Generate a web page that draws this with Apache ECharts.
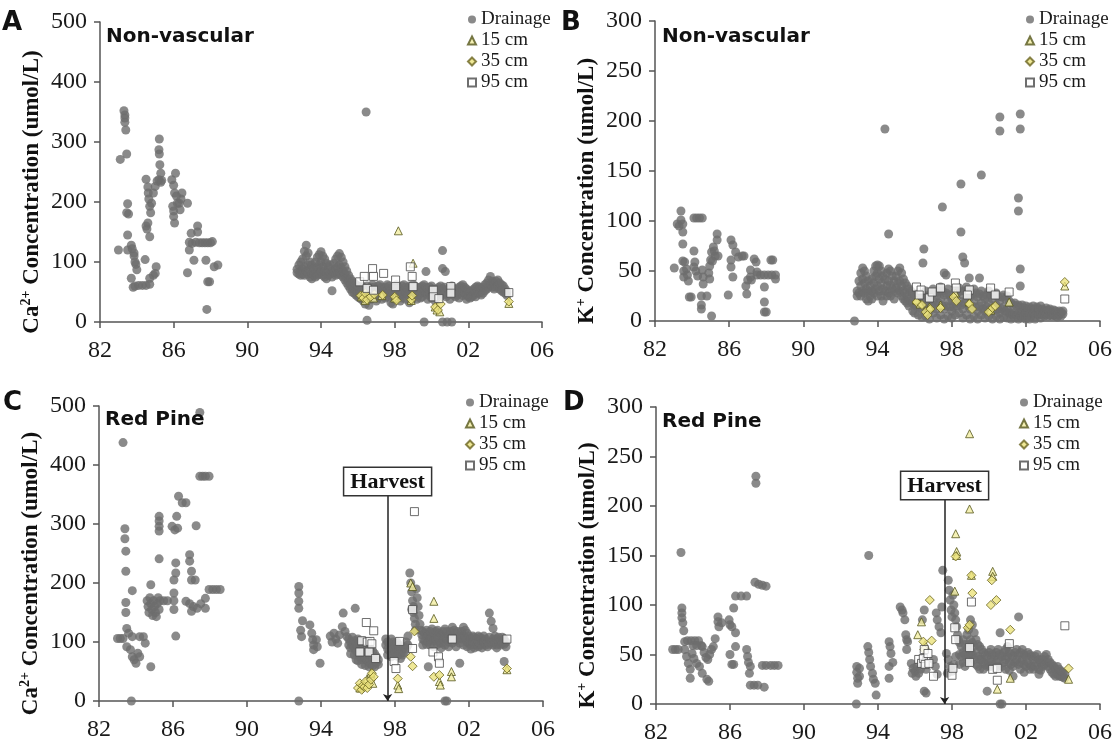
<!DOCTYPE html>
<html><head><meta charset="utf-8">
<script src="https://cdn.jsdelivr.net/npm/echarts@6/dist/echarts.min.js"></script>
<style>html,body{margin:0;padding:0;background:#fff}#c{width:1115px;height:755px}</style>
</head><body><div id="c"></div>
<script>
// ---------- DATA (x = decimal year, y = umol/L) ----------
const xTicks = [1982, 1986, 1990, 1994, 1998, 2002, 2006];
const seriesNames = ['Drainage', '15 cm', '35 cm', '95 cm'];
const harvestYear = 1997.6;
const harvestTopC = 349;   // value where the Harvest box sits (panel C)
const harvestTopD = 207;   // (panel D)

// Panel A: Non-vascular, Ca2+
const nvCaDrainEarly = [[1983.0,120],[1983.1,271],[1983.3,352],[1983.35,345],[1983.35,340],[1983.35,333],[1983.4,320],[1983.45,280],[1983.45,182],[1983.55,180],[1983.5,197],[1983.5,145],[1983.5,120],[1983.7,128],[1983.75,122],[1983.85,115],[1983.85,110],[1983.9,100],[1983.95,96],[1984.0,87],[1983.7,73],[1983.8,58],[1983.9,60],[1984.1,61],[1984.3,61],[1984.5,61],[1984.7,63],[1984.45,104],[1984.7,73],[1984.9,78],[1985.0,81],[1985.05,92],[1984.5,160],[1984.55,155],[1984.6,165],[1984.7,142],[1984.5,238],[1984.6,225],[1984.62,215],[1984.65,205],[1984.7,193],[1984.75,182],[1984.8,198],[1984.9,215],[1985.0,226],[1985.1,235],[1985.2,237],[1985.3,233],[1985.22,305],[1985.2,287],[1985.22,280],[1985.25,262],[1985.3,248],[1985.35,236],[1985.9,237],[1986.0,228],[1986.05,215],[1985.95,193],[1986.0,185],[1986.0,176],[1986.05,165],[1986.1,248],[1986.15,210],[1986.2,198],[1986.3,198],[1986.35,187],[1986.4,205],[1986.45,215],[1986.75,198],[1986.75,82],[1986.85,133],[1986.85,120],[1986.95,148],[1987.0,131],[1987.1,103],[1987.2,133],[1987.3,160],[1987.3,150],[1987.4,132],[1987.55,132],[1987.7,132],[1987.85,132],[1988.0,132],[1988.1,134],[1987.75,103],[1987.85,67],[1987.95,67],[1988.2,92],[1988.4,95],[1987.8,21]];
const nvCaDrainOutliers = [[1996.45,350],[1996.5,3],[1994.6,52],[2000.6,119],[2000.6,89],[2000.75,84],[1999.7,84],[1999.6,0],[2000.6,0],[2000.85,0],[2001.1,0]];
const nvCaDrainBand = [[1992.7,88,82],[1992.8,95,80],[1992.9,100,85,78],[1993.0,105,88,80],[1993.1,118,92,78],[1993.2,128,110,85],[1993.3,115,95,80],[1993.4,100,88,75],[1993.5,95,80,72],[1993.6,90,78],[1993.7,100,82,75],[1993.8,108,90,78],[1993.9,112,95,80],[1994.0,117,100,85],[1994.1,110,92,78],[1994.2,105,85,75],[1994.3,98,82,72],[1994.4,92,78],[1994.5,95,80],[1994.6,85,75],[1994.7,98,82],[1994.8,105,88,78],[1994.9,110,92,80],[1995.0,114,95,82],[1995.1,108,90,78],[1995.2,100,85,75],[1995.3,92,80,70],[1995.4,85,72,65],[1995.5,78,68,60],[1995.6,72,62,55],[1995.7,68,58,50],[1995.8,65,55,48],[1995.9,62,52,45],[1996.0,60,50,42],[1996.1,58,48,40],[1996.2,60,50,38],[1996.3,58,45,35],[1996.4,55,45,30],[1996.5,60,48,40],[1996.6,55,42,28],[1996.7,58,48,38],[1996.8,62,50,40],[1996.9,58,48],[1997.0,55,45,35],[1997.1,60,50,40],[1997.2,62,52],[1997.3,58,48,38],[1997.4,55,45],[1997.5,58,48,40],[1997.6,62,52,42],[1997.7,60,50],[1997.8,55,45,32],[1997.9,58,48,30],[1998.0,60,50,38],[1998.1,62,52,42],[1998.2,58,48],[1998.3,55,45,35],[1998.4,60,50,40],[1998.5,62,52],[1998.6,58,48,38],[1998.7,55,45],[1998.8,60,50,32],[1998.9,58,48,35],[1999.0,62,52,40],[1999.1,60,50],[1999.2,58,48,38],[1999.3,55,45],[1999.4,58,48,40],[1999.5,60,50,42],[1999.6,62,52],[1999.7,58,48],[1999.8,55,45,38],[1999.9,58,48],[2000.0,60,50,40],[2000.1,55,45],[2000.2,52,42,35],[2000.3,55,45],[2000.4,58,48,38],[2000.5,60,50],[2000.6,55,45],[2000.7,58,48],[2000.8,52,42],[2000.9,55,45],[2001.0,58,48,38],[2001.1,60,50],[2001.2,55,45],[2001.3,52,42],[2001.4,55,45],[2001.5,58,48,40],[2001.6,60,50],[2001.7,62,52,44],[2001.8,58,48],[2001.9,55,45,38],[2002.0,52,42],[2002.1,50,40],[2002.2,52,42],[2002.3,55,45],[2002.4,58,48,42],[2002.5,60,50],[2002.6,58,48],[2002.7,55,45],[2002.8,58,48],[2002.9,62,52],[2003.0,65,55],[2003.1,70,58],[2003.2,76,62],[2003.3,68,58],[2003.4,65,55],[2003.5,68,58],[2003.6,70,60],[2003.7,65,55],[2003.8,62,52],[2003.9,60,50],[2004.0,55,48],[2004.1,50,44]];
const nvCa15 = [[1996.2,42],[1996.4,36],[1996.6,45],[1996.85,40],[1997.3,44],[1998.2,152],[1998.0,40],[1998.9,36],[1999.0,98],[2000.2,25],[2000.3,20],[2000.45,17],[2004.2,31]];
const nvCa35 = [[1996.15,44],[1996.3,40],[1996.4,48],[1996.5,37],[1996.7,42],[1996.9,46],[1997.35,45],[1998.0,42],[1998.1,36],[1998.9,37],[1998.95,44],[2000.2,25],[2000.35,20],[2000.5,30],[2004.2,34]];
const nvCa95 = [[1996.1,67],[1996.35,76],[1996.8,89],[1996.85,76],[1997.4,81],[1996.5,56],[1996.85,53],[1998.05,70],[1998.05,59],[1998.85,92],[1998.95,76],[1999.0,59],[2000.1,53],[2000.1,42],[2000.4,39],[2001.05,59],[2001.05,48],[2004.2,49]];

// Panel B: Non-vascular, K+
const nvKDrainEarly = [[1983.04,53],[1983.2,97],[1983.3,95],[1983.4,110],[1983.4,101],[1983.5,97],[1983.5,89],[1983.5,77],[1983.5,60],[1983.6,59],[1983.55,50],[1983.55,44],[1983.7,52],[1983.75,46],[1983.8,40],[1983.85,24],[1983.95,24],[1984.1,70],[1984.1,103],[1984.25,103],[1984.4,103],[1984.55,103],[1984.1,54],[1984.15,59],[1984.2,50],[1984.3,45],[1984.55,51],[1984.6,44],[1984.6,37],[1984.5,25],[1984.5,16],[1984.5,12],[1984.8,25],[1985.05,5],[1984.9,48],[1984.95,55],[1985.0,61],[1985.05,69],[1985.15,74],[1985.2,70],[1985.25,65],[1985.35,87],[1985.35,81],[1985.4,65],[1984.95,42],[1985.1,60],[1985.95,26],[1986.1,81],[1986.2,76],[1986.1,61],[1986.1,54],[1986.2,44],[1986.35,69],[1986.5,64],[1986.7,65],[1986.8,65],[1986.9,35],[1986.95,27],[1987.0,41],[1987.2,41],[1987.35,62],[1987.45,59],[1987.15,51],[1987.15,44],[1987.5,49],[1987.5,46],[1987.7,46],[1987.9,46],[1988.1,46],[1988.3,46],[1988.5,46],[1988.25,61],[1988.35,61],[1988.5,42],[1987.9,34],[1987.9,19],[1987.9,9],[1988.0,9]];
const nvKDrainOutliers = [[1992.76,0],[1994.4,192],[1994.6,87],[1996.5,72],[1996.45,58],[1997.5,114],[1998.5,137],[1998.5,89],[1998.6,64],[1998.7,58],[1999.6,146],[2000.6,204],[2000.6,190],[2001.7,207],[2001.7,192],[2001.6,123],[2001.6,110],[2001.7,52],[2001.7,35],[1997.7,46],[1999.5,43],[1998.95,43],[1997.6,48]];
const nvKDrainBand = [[1992.9,30,25],[1993.0,40,28],[1993.1,48,35,25],[1993.2,53,42,30],[1993.3,50,38,28],[1993.4,45,32,22],[1993.5,40,30,20],[1993.6,35,25],[1993.7,42,30,22],[1993.8,50,38,28],[1993.9,55,45,32],[1994.0,56,48,35,25],[1994.1,55,42,30],[1994.2,50,38,25],[1994.3,45,32,20],[1994.4,42,30],[1994.5,48,35,25],[1994.6,52,40,28],[1994.7,50,36,25],[1994.8,45,32],[1994.9,40,30,22],[1995.0,45,33],[1995.1,50,38,28],[1995.2,53,40,30],[1995.3,48,35,25],[1995.4,42,30,22],[1995.5,38,28,20],[1995.6,35,25,18],[1995.7,32,22,15],[1995.8,30,20],[1995.9,28,18,10],[1996.0,26,16,8],[1996.1,25,15],[1996.2,28,18,6],[1996.3,24,14],[1996.4,22,12,4],[1996.5,26,16],[1996.6,30,18,5],[1996.7,25,12],[1996.8,22,10,2],[1996.9,28,15],[1997.0,32,20,8],[1997.1,28,16],[1997.2,25,12,3],[1997.3,30,18],[1997.4,34,22,6],[1997.5,30,15],[1997.6,26,12,2],[1997.7,28,15],[1997.8,32,20,5],[1997.9,26,14],[1998.0,22,10,3],[1998.1,25,14],[1998.2,30,18,6],[1998.3,28,15],[1998.4,33,20,8],[1998.5,30,16],[1998.6,26,12,3],[1998.7,30,18],[1998.8,34,22,6],[1998.9,28,15],[1999.0,24,12,2],[1999.1,27,15],[1999.2,32,20,5],[1999.3,28,14],[1999.4,24,10,2],[1999.5,27,15],[1999.6,30,18,6],[1999.7,25,12],[1999.8,22,10,3],[1999.9,26,14],[2000.0,30,18,5],[2000.1,26,12],[2000.2,22,10,2],[2000.3,26,14],[2000.4,28,16,5],[2000.5,24,12],[2000.6,20,8,2],[2000.7,24,12],[2000.8,26,14,4],[2000.9,22,10],[2001.0,25,12,3],[2001.1,20,8],[2001.2,18,8,2],[2001.3,16,6],[2001.4,18,8,3],[2001.5,15,6],[2001.6,16,8,2],[2001.7,14,5],[2001.8,16,8,3],[2001.9,13,5],[2002.0,15,8,2],[2002.1,12,5],[2002.2,14,7,2],[2002.3,12,5],[2002.4,15,8],[2002.5,12,5,2],[2002.6,14,8],[2002.7,12,6],[2002.8,15,8,3],[2002.9,12,6],[2003.0,10,5],[2003.1,13,7],[2003.2,11,5],[2003.3,12,6],[2003.4,9,5],[2003.5,11,6],[2003.6,10,5],[2003.7,8,4],[2003.8,10,6],[2003.9,9,5],[2004.0,10,7]];
const nvK15 = [[1996.1,21],[1996.3,17],[1996.8,14],[1997.4,16],[1998.2,28],[1998.95,19],[2000.1,11],[2001.1,19],[2004.1,35]];
const nvK35 = [[1996.1,19],[1996.4,16],[1996.6,9],[1996.7,6],[1996.85,12],[1997.4,13],[1998.1,24],[1998.25,20],[1998.95,17],[1999.1,12],[2000.0,9],[2000.2,13],[2000.35,15],[2004.1,39]];
const nvK95 = [[1996.1,34],[1996.35,31],[1996.25,26],[1996.8,23],[1996.95,29],[1997.4,33],[1998.2,38],[1998.25,33],[1998.95,31],[1998.85,26],[2000.1,33],[2000.35,26],[2001.1,29],[2004.1,22]];

// Panel C: Red Pine, Ca2+
const rpCaDrainEarly = [[1983.0,106],[1983.15,106],[1983.3,106],[1983.3,438],[1983.4,292],[1983.4,275],[1983.45,254],[1983.45,220],[1983.45,167],[1983.45,150],[1983.5,123],[1983.6,115],[1983.5,92],[1983.7,87],[1983.8,75],[1983.9,70],[1984.0,64],[1984.1,81],[1984.2,75],[1983.75,0],[1983.8,187],[1983.8,109],[1984.2,109],[1984.4,109],[1984.5,98],[1984.8,58],[1984.6,170],[1984.65,160],[1984.7,150],[1984.75,175],[1984.8,165],[1984.85,155],[1984.9,145],[1984.95,170],[1985.0,160],[1985.05,150],[1985.1,143],[1985.15,165],[1985.2,175],[1985.25,155],[1985.3,170],[1984.8,197],[1985.25,313],[1985.25,305],[1985.25,296],[1985.25,288],[1985.25,241],[1985.5,170],[1985.7,170],[1986.05,205],[1986.05,183],[1986.05,170],[1986.05,155],[1986.15,110],[1986.15,234],[1986.15,217],[1985.95,296],[1986.1,290],[1986.25,293],[1986.2,313],[1986.3,347],[1986.5,336],[1986.7,336],[1986.7,169],[1986.9,165],[1987.1,160],[1987.3,157],[1987.5,165],[1986.9,248],[1986.9,237],[1987.0,220],[1987.0,205],[1987.2,205],[1987.0,152],[1987.25,297],[1987.45,489],[1987.45,381],[1987.6,381],[1987.75,381],[1987.95,381],[1987.75,174],[1987.75,157],[1987.95,189],[1988.15,189],[1988.35,189],[1988.55,189]];
const rpCaDrainOutliers = [[1992.8,194],[1992.8,183],[1992.8,169],[1992.8,157],[1993.0,136],[1992.9,120],[1992.95,109],[1992.8,0],[1993.4,129],[1993.5,115],[1993.55,104],[1993.6,95],[1993.6,87],[1993.75,104],[1993.8,92],[1993.95,64],[1994.5,110],[1994.6,100],[1994.7,115],[1994.8,105],[1994.9,98],[1995.0,112],[1995.2,149],[1995.85,157],[1995.15,126],[1995.3,118],[1995.4,109],[1998.8,217],[1998.85,200],[1998.9,185],[1998.95,170],[1999.0,160],[1999.0,150],[1999.05,140],[1999.1,130],[1999.1,120],[1998.9,155],[1999.15,190],[1999.2,175],[1999.25,160],[1999.3,145],[1999.35,130],[1999.4,120],[1999.45,112]];
const rpCaDrainBand = [[1995.5,105,95],[1995.6,100,90,80],[1995.7,108,95],[1995.8,102,90,78],[1995.9,98,85,70],[1996.0,105,92,80,68],[1996.1,100,88,75],[1996.2,95,82,70,62],[1996.3,102,90,78],[1996.4,98,85,72,60],[1996.5,95,80,68],[1996.6,90,78,65,58],[1996.7,88,75,62],[1996.8,85,72,60],[1996.9,80,68,58],[1997.0,75,65],[1997.1,70,62],[1997.5,105,95],[1997.6,100,88,78],[1997.7,98,85],[1997.8,105,90,75],[1997.9,100,88,78],[1998.0,95,82],[1998.1,100,88,76],[1998.2,95,85],[1998.3,90,80,72],[1998.4,88,78],[1998.5,92,82],[1998.6,100,88],[1998.7,110,95],[1999.5,118,105,95],[1999.6,115,102],[1999.7,120,108,96],[1999.8,112,100,58],[1999.9,118,105,95],[2000.0,122,108],[2000.1,115,102,92],[2000.2,118,105],[2000.3,120,108,96],[2000.4,115,100],[2000.5,112,98,90],[2000.6,118,105],[2000.7,122,108,95,0],[2000.8,118,105,0],[2000.9,112,100,92],[2001.0,118,105],[2001.1,125,110,98],[2001.2,120,105],[2001.3,115,102,92],[2001.4,118,105],[2001.5,112,98,64],[2001.6,118,105],[2001.7,125,110,95],[2001.8,120,108],[2001.9,115,100,92],[2002.0,110,98],[2002.1,105,95,88],[2002.2,110,100],[2002.3,108,96,90],[2002.4,105,95],[2002.5,110,100,92],[2002.6,108,96],[2002.7,105,95,90],[2002.8,110,100],[2002.9,105,95],[2003.0,100,92],[2003.1,149,108,96],[2003.2,135,100],[2003.3,123,105,95],[2003.4,110,98],[2003.5,105,95,90],[2003.6,108,98],[2003.7,102,95],[2003.8,108,98],[2003.9,105,96,67],[2004.0,100,92]];
const rpCa15 = [[1996.1,22],[1996.3,28],[1996.5,38],[1996.7,47],[1996.8,30],[1998.15,27],[1998.2,21],[1998.85,200],[1998.95,194],[2000.1,169],[2000.1,140],[2000.4,33],[2000.45,27],[2001.05,50],[2001.05,41],[2004.05,53]];
const rpCa35 = [[1996.0,22],[1996.1,30],[1996.2,19],[1996.25,26],[1996.35,24],[1996.4,33],[1996.5,22],[1996.6,28],[1996.7,36],[1996.75,47],[1996.85,41],[1998.15,38],[1998.85,75],[1998.95,59],[1999.05,118],[2000.1,41],[2000.4,44],[2004.05,55]];
const rpCa95 = [[1996.1,83],[1996.2,102],[1996.45,133],[1996.5,100],[1996.6,83],[1996.65,101],[1996.75,97],[1996.85,119],[1996.95,72],[1997.95,67],[1998.05,55],[1998.25,101],[1998.95,155],[1998.95,89],[1999.05,321],[2000.05,83],[2000.35,75],[2000.4,64],[2001.1,105],[2004.05,105]];

// Panel D: Red Pine, K+
const rpKDrainEarly = [[1982.9,55],[1983.05,55],[1983.2,55],[1983.35,153],[1983.4,97],[1983.4,92],[1983.4,87],[1983.45,82],[1983.5,74],[1983.55,63],[1983.55,55],[1983.65,48],[1983.75,41],[1983.85,35],[1983.85,26],[1983.7,64],[1983.9,64],[1984.1,64],[1984.3,64],[1984.0,59],[1984.2,59],[1984.45,59],[1983.95,51],[1984.05,46],[1984.2,41],[1984.35,38],[1984.5,31],[1984.75,25],[1984.85,23],[1984.5,58],[1984.6,52],[1984.7,47],[1984.8,45],[1984.9,50],[1985.0,55],[1985.1,58],[1985.2,66],[1985.35,88],[1985.35,83],[1985.4,78],[1985.55,82],[1985.95,85],[1986.0,80],[1986.1,78],[1986.2,97],[1986.3,109],[1986.6,109],[1986.9,109],[1986.0,50],[1986.1,40],[1986.2,40],[1986.3,58],[1986.3,72],[1986.9,55],[1986.95,48],[1987.0,42],[1987.1,38],[1987.05,31],[1987.1,19],[1987.3,19],[1987.5,19],[1987.4,230],[1987.4,223],[1987.35,123],[1987.55,121],[1987.75,120],[1987.95,119],[1987.85,17],[1987.75,39],[1987.95,39],[1988.2,39],[1988.4,39],[1988.6,39]];
const rpKDrainOutliers = [[1992.83,0],[1992.85,38],[1992.85,32],[1992.9,26],[1992.9,21],[1993.0,36],[1993.0,28],[1993.5,150],[1993.45,58],[1993.5,52],[1993.55,45],[1993.6,38],[1993.7,31],[1993.75,25],[1993.85,21],[1993.9,9],[1994.6,63],[1994.65,58],[1994.7,51],[1994.6,38],[1994.8,42],[1994.6,26],[1995.2,98],[1995.3,95],[1995.35,92],[1995.45,85],[1995.5,70],[1995.55,65],[1995.6,63],[1995.55,55],[1995.8,41],[1995.9,36],[1996.0,33],[1996.1,38],[1996.2,31],[1996.3,35],[1995.85,31],[1996.05,28],[1996.4,85],[1996.5,95],[1996.5,13],[1996.6,11],[1996.45,45],[1996.55,40],[1996.6,35],[1997.15,92],[1997.2,85],[1997.3,78],[1997.4,72],[1997.5,135],[1997.45,98],[1997.0,45],[1997.1,38],[1997.2,30],[1997.7,51],[1997.8,45],[1997.9,38],[1998.0,33],[1998.1,40],[1998.2,48],[1997.75,31],[1997.8,125],[1997.85,115],[1997.9,105],[1997.95,95],[1998.0,88],[1998.05,110],[1998.1,100],[1998.15,92],[1998.2,85],[1998.25,78],[1998.3,70],[1998.35,65]];
const rpKDrainBand = [[1998.4,62,50,40],[1998.5,58,48],[1998.6,65,52,42],[1998.7,60,50,38],[1998.8,70,55,45],[1998.9,75,60,48],[1999.0,85,65,52,42],[1999.1,80,62,50],[1999.2,72,58,45],[1999.3,65,52,40],[1999.4,60,48,38],[1999.5,58,45,35],[1999.6,55,45],[1999.7,52,42,35],[1999.8,50,40],[1999.9,48,38,13],[2000.0,52,42],[2000.1,55,45,38],[2000.2,50,40],[2000.3,48,38],[2000.4,52,42],[2000.5,55,45,38],[2000.6,72,50,0],[2000.7,48,38,0],[2000.8,52,42],[2000.9,55,45,35],[2001.0,58,48],[2001.1,52,42,34],[2001.2,50,40],[2001.3,48,38,28],[2001.4,52,42],[2001.5,55,45],[2001.6,88,50,40],[2001.7,52,42,35],[2001.8,55,45],[2001.9,50,40,32],[2002.0,48,38],[2002.1,52,42],[2002.2,50,40,35],[2002.3,48,38],[2002.4,45,35],[2002.5,48,38],[2002.6,50,42],[2002.7,45,35,30],[2002.8,42,34],[2002.9,45,38],[2003.0,48,40],[2003.1,50,42],[2003.2,45,38],[2003.3,42,35],[2003.4,40,32],[2003.5,38,30],[2003.6,35,28],[2003.7,38,30],[2003.8,35,28],[2003.9,33,28],[2004.0,32,27],[2004.1,30,26]];
const rpK15 = [[1996.15,70],[1996.35,83],[1996.55,60],[1998.15,114],[1998.2,172],[1998.25,154],[1998.25,150],[1998.95,273],[1998.95,197],[1999.05,130],[2000.2,134],[2000.2,129],[2000.45,15],[2001.15,26],[2004.3,25]];
const rpK35 = [[1996.45,63],[1996.5,55],[1996.8,105],[1996.9,64],[1998.2,149],[1998.85,77],[1998.95,80],[1999.05,130],[1999.1,112],[2000.1,100],[2000.15,125],[2000.4,105],[2001.15,75],[2004.3,36]];
const rpK95 = [[1996.2,45],[1996.35,41],[1996.45,46],[1996.5,55],[1996.55,40],[1996.7,51],[1996.75,41],[1997.0,28],[1998.0,29],[1998.05,36],[1998.15,77],[1998.2,65],[1998.95,57],[1998.95,42],[1999.05,103],[2000.2,35],[2000.45,24],[2000.45,36],[2001.1,61],[2004.1,79]];

// ---------- helpers ----------
function expandRows(rows) { // [x, y1, y2, ...] -> [[x,y1],[x,y2],...]
  const out = [];
  rows.forEach(r => { for (let k = 1; k < r.length; k++) out.push([r[0], r[k]]); });
  return out;
}

const panels = [
  { letter:'A', site:'Non-vascular', ion:'Ca', charge:'2+', ymax:500, yint:100,
    drain: nvCaDrainEarly.concat(nvCaDrainOutliers, expandRows(nvCaDrainBand)), d15:nvCa15, d35:nvCa35, d95:nvCa95, harvest:null,
    grid:{left:100, top:22, width:442, height:300}, letterPos:{left:2, top:10}, sitePos:{left:106, top:27}, legendPos:{left:467, top:10} },
  { letter:'B', site:'Non-vascular', ion:'K', charge:'+', ymax:300, yint:50,
    drain: nvKDrainEarly.concat(nvKDrainOutliers, expandRows(nvKDrainBand)), d15:nvK15, d35:nvK35, d95:nvK95, harvest:null,
    grid:{left:655, top:21, width:445, height:300}, letterPos:{left:561, top:10}, sitePos:{left:662, top:27}, legendPos:{left:1025, top:10} },
  { letter:'C', site:'Red Pine', ion:'Ca', charge:'2+', ymax:500, yint:100,
    drain: rpCaDrainEarly.concat(rpCaDrainOutliers, expandRows(rpCaDrainBand)), d15:rpCa15, d35:rpCa35, d95:rpCa95, harvest:harvestTopC,
    grid:{left:99, top:406, width:444, height:295}, letterPos:{left:3, top:390}, sitePos:{left:105, top:410}, legendPos:{left:465, top:393} },
  { letter:'D', site:'Red Pine', ion:'K', charge:'+', ymax:300, yint:50,
    drain: rpKDrainEarly.concat(rpKDrainOutliers, expandRows(rpKDrainBand)), d15:rpK15, d35:rpK35, d95:rpK95, harvest:harvestTopD,
    grid:{left:656, top:407, width:445, height:297}, letterPos:{left:563, top:390}, sitePos:{left:662, top:412}, legendPos:{left:1019, top:393} }
];

const axisColor = '#555';
const serif = '"Liberation Serif", "Times New Roman", serif';
const sans = '"DejaVu Sans", Verdana, sans-serif';

const option = { animation:false, backgroundColor:'#fff', grid:[], xAxis:[], yAxis:[], series:[], legend:[], title:[] };

panels.forEach((p, i) => {
  option.grid.push(Object.assign({containLabel:false}, p.grid));
  option.xAxis.push({
    gridIndex:i, type:'value', min:xTicks[0], max:xTicks[xTicks.length-1], interval:4,
    axisLine:{show:true, onZero:false, lineStyle:{color:axisColor, width:1.5}},
    axisTick:{show:true, length:6, lineStyle:{color:axisColor, width:1.5}},
    axisLabel:{margin:17, fontFamily:serif, fontSize:24, color:'#1a1a1a',
      formatter: v => String(v % 100).padStart(2, '0')},
    splitLine:{show:false}
  });
  option.yAxis.push({
    gridIndex:i, type:'value', min:0, max:p.ymax, interval:p.yint,
    axisLine:{show:true, lineStyle:{color:axisColor, width:1.5}},
    axisTick:{show:true, length:6, lineStyle:{color:axisColor, width:1.5}},
    axisLabel:{margin:13, fontFamily:serif, fontSize:24, color:'#1a1a1a'},
    splitLine:{show:false},
    name:'{b|' + p.ion + '}{s|' + p.charge + '}{b| Concentration (umol/L)}',
    nameLocation:'middle', nameGap:55,
    nameTextStyle:{padding:[0,40,0,0],
      rich:{ b:{fontFamily:serif, fontWeight:'bold', fontSize:23, color:'#111', lineHeight:26},
             s:{fontFamily:serif, fontWeight:'bold', fontSize:14, color:'#111', lineHeight:26, verticalAlign:'top', padding:[0,0,10,0]} }}
  });
  const common = {type:'scatter', xAxisIndex:i, yAxisIndex:i, emphasis:{disabled:true}, silent:true};
  option.series.push(Object.assign({}, common, {name:seriesNames[0], data:p.drain, symbol:'circle', symbolSize:9, itemStyle:{color:'#6d6d6d'}, z:2}));
  option.series.push(Object.assign({}, common, {name:seriesNames[1], data:p.d15, symbol:'triangle', symbolSize:8, itemStyle:{color:'#f2eda2', borderColor:'#55561c', borderWidth:1}, z:3}));
  option.series.push(Object.assign({}, common, {name:seriesNames[2], data:p.d35, symbol:'diamond', symbolSize:9, itemStyle:{color:'#ebe27c', borderColor:'#6a6420', borderWidth:1}, z:3}));
  const s95 = Object.assign({}, common, {name:seriesNames[3], data:p.d95, symbol:'rect', symbolSize:8, itemStyle:{color:'#ffffff', borderColor:'#4a4a4a', borderWidth:1}, z:4});
  if (p.harvest !== null) {
    s95.markLine = {
      silent:true, animation:false, symbol:['none','arrow'], symbolSize:7,
      lineStyle:{color:'#222', width:1.5, type:'solid'},
      label:{show:true, position:'start', distance:0, formatter:'Harvest',
        fontFamily:serif, fontWeight:'bold', fontSize:22, color:'#111',
        backgroundColor:'#fff', borderColor:'#333', borderWidth:1.5, padding:[3,6,2,6]},
      data:[[{coord:[harvestYear, p.harvest]}, {coord:[harvestYear, 0]}]]
    };
  }
  option.series.push(s95);
  option.legend.push(Object.assign({
    orient:'vertical', padding:0, itemGap:2, itemWidth:8, itemHeight:8, selectedMode:false,
    data:seriesNames, textStyle:{fontFamily:serif, fontSize:19, color:'#1a1a1a', padding:[0,0,0,0]}
  }, p.legendPos));
  option.title.push(Object.assign({text:p.letter, padding:0, textStyle:{fontFamily:sans, fontWeight:'bold', fontSize:26, color:'#111'}}, p.letterPos));
  option.title.push(Object.assign({text:p.site, padding:0, textStyle:{fontFamily:sans, fontWeight:'bold', fontSize:20, color:'#111'}}, p.sitePos));
});

const chart = echarts.init(document.getElementById('c'), null, {renderer:'canvas'});
chart.setOption(option);
</script></body></html>
